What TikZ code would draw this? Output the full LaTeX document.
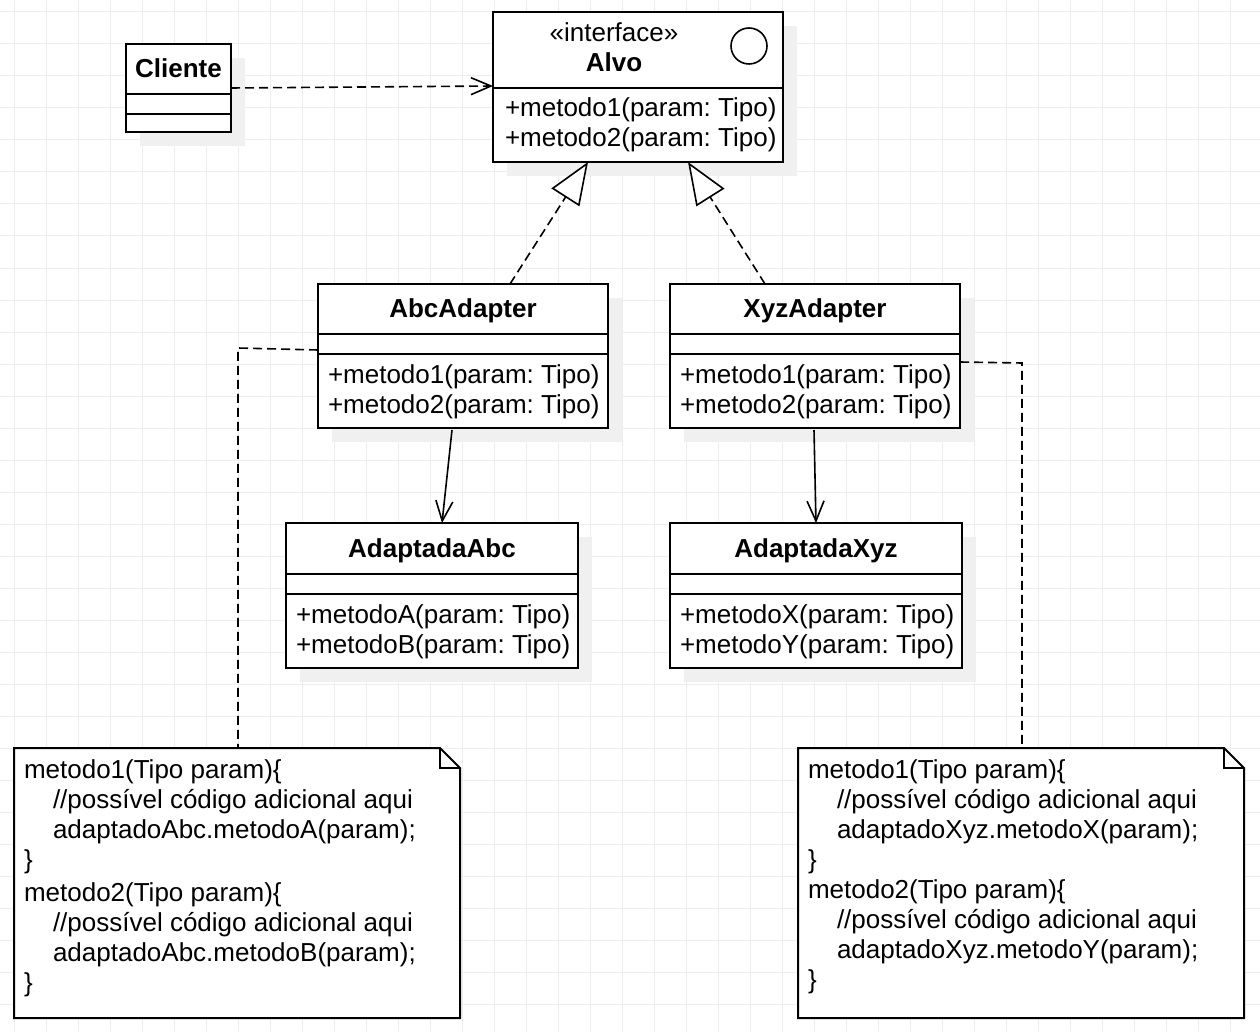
\documentclass[tikz,border=0pt]{standalone}
\usepackage{fontspec}
\setmainfont{Liberation Sans}
\usetikzlibrary{arrows.meta,calc,shadows}
\definecolor{gridc}{gray}{0.93}
\definecolor{shadowc}{gray}{0.94}
\frenchspacing
\begin{document}
\frenchspacing
\begin{tikzpicture}[x=1pt,y=-1pt,
  every node/.style={font=\fontsize{26}{30}\selectfont\frenchspacing, inner sep=0pt, outer sep=0pt},
  umlbox/.style={draw=black, line width=2pt, fill=white, rectangle, anchor=north west,
     drop shadow={shadow xshift=14pt, shadow yshift=-14pt, fill=shadowc, opacity=1}},
  divline/.style={line width=2pt},
  notebox/.style={draw=none, rectangle, anchor=north west, minimum width=446pt, minimum height=270pt},
  noteline/.style={line width=2pt, fill=white, line join=miter},
  txt/.style={anchor=base west},
  ctxt/.style={anchor=base},
  dashconn/.style={line width=1.6pt, dash pattern=on 9pt off 5pt},
  veeconn/.style={line width=1.6pt, -{Straight Barb[length=20pt,width=17pt,line width=1.6pt]}},
  realconn/.style={line width=1.6pt, dash pattern=on 9pt off 5pt, -{Triangle[open,fill=white,length=42pt,width=33pt,line width=1.6pt]}}
]
\useasboundingbox (0,0) rectangle (1260,1032);
\fill[white] (0,0) rectangle (1260,1032);
% grid
\foreach \gx in {14,46,...,1246} \draw[gridc,line width=1pt] (\gx,0) -- (\gx,1032);
\foreach \gy in {12,44,...,1030} \draw[gridc,line width=1pt] (0,\gy) -- (1260,\gy);

% Cliente
\node[umlbox, minimum width=105pt, minimum height=88pt] (cliente) at (126,44) {};
\draw[divline] ($(cliente.north west)+(0,50)$) -- ($(cliente.north east)+(0,50)$);
\draw[divline] ($(cliente.north west)+(0,70)$) -- ($(cliente.north east)+(0,70)$);
\node[ctxt] (clienteT) at ($(cliente.north)+(0,34)$) {\bfseries Cliente};

% Alvo
\node[umlbox, minimum width=290pt, minimum height=150pt] (alvo) at (493,12) {};
\draw[divline] ($(alvo.north west)+(0,76)$) -- ($(alvo.north east)+(0,76)$);
\node[ctxt] (alvoS) at ($(alvo.north west)+(121,30)$) {«interface»};
\node[ctxt] (alvoT) at ($(alvo.north west)+(121,60)$) {\bfseries Alvo};
\node[circle, draw, line width=1.6pt, minimum size=36pt] (alvoIcon) at ($(alvo.north west)+(256,34)$) {};
\node[txt] (alvoM1) at ($(alvo.north west)+(12,105)$) {+metodo1(param: Tipo)};
\node[txt] (alvoM2) at ($(alvo.north west)+(12,135)$) {+metodo2(param: Tipo)};

% AbcAdapter
\node[umlbox, minimum width=290pt, minimum height=144pt] (abc) at (318,284) {};
\draw[divline] ($(abc.north west)+(0,50)$) -- ($(abc.north east)+(0,50)$);
\draw[divline] ($(abc.north west)+(0,70)$) -- ($(abc.north east)+(0,70)$);
\node[ctxt] (abcT) at ($(abc.north)+(0,33)$) {\bfseries AbcAdapter};
\node[txt] (abcM1) at ($(abc.north west)+(10,99)$) {+metodo1(param: Tipo)};
\node[txt] (abcM2) at ($(abc.north west)+(10,129)$) {+metodo2(param: Tipo)};

% XyzAdapter
\node[umlbox, minimum width=290pt, minimum height=144pt] (xyz) at (670,284) {};
\draw[divline] ($(xyz.north west)+(0,50)$) -- ($(xyz.north east)+(0,50)$);
\draw[divline] ($(xyz.north west)+(0,70)$) -- ($(xyz.north east)+(0,70)$);
\node[ctxt] (xyzT) at ($(xyz.north)+(0,33)$) {\bfseries XyzAdapter};
\node[txt] (xyzM1) at ($(xyz.north west)+(10,99)$) {+metodo1(param: Tipo)};
\node[txt] (xyzM2) at ($(xyz.north west)+(10,129)$) {+metodo2(param: Tipo)};

% AdaptadaAbc
\node[umlbox, minimum width=292pt, minimum height=145pt] (adabc) at (286,523) {};
\draw[divline] ($(adabc.north west)+(0,51)$) -- ($(adabc.north east)+(0,51)$);
\draw[divline] ($(adabc.north west)+(0,71)$) -- ($(adabc.north east)+(0,71)$);
\node[ctxt] (adabcT) at ($(adabc.north)+(0,34)$) {\bfseries AdaptadaAbc};
\node[txt] (adabcM1) at ($(adabc.north west)+(10,100)$) {+metodoA(param: Tipo)};
\node[txt] (adabcM2) at ($(adabc.north west)+(10,130)$) {+metodoB(param: Tipo)};

% AdaptadaXyz
\node[umlbox, minimum width=292pt, minimum height=145pt] (adxyz) at (670,523) {};
\draw[divline] ($(adxyz.north west)+(0,51)$) -- ($(adxyz.north east)+(0,51)$);
\draw[divline] ($(adxyz.north west)+(0,71)$) -- ($(adxyz.north east)+(0,71)$);
\node[ctxt] (adxyzT) at ($(adxyz.north)+(0,34)$) {\bfseries AdaptadaXyz};
\node[txt] (adxyzM1) at ($(adxyz.north west)+(10,100)$) {+metodoX(param: Tipo)};
\node[txt] (adxyzM2) at ($(adxyz.north west)+(10,130)$) {+metodoY(param: Tipo)};

% Notes
\node[notebox] (note1) at (14,748) {};
\draw[noteline] (note1.north west) -- ($(note1.north east)+(-20,0)$) -- ($(note1.north east)+(0,20)$) -- (note1.south east) -- (note1.south west) -- cycle;
\draw[noteline, fill=none] ($(note1.north east)+(-20,0)$) -- ($(note1.north east)+(-20,20)$) -- ($(note1.north east)+(0,20)$);
\node[txt] (n1a) at ($(note1.north west)+(10,30)$) {metodo1(Tipo param)\{};
\node[txt] (n1b) at ($(note1.north west)+(39,60)$) {//possível código adicional aqui};
\node[txt] (n1c) at ($(note1.north west)+(39,90)$) {adaptadoAbc.metodoA(param);};
\node[txt] (n1d) at ($(note1.north west)+(10,120)$) {\}};
\node[txt] (n1e) at ($(note1.north west)+(10,153)$) {metodo2(Tipo param)\{};
\node[txt] (n1f) at ($(note1.north west)+(39,183)$) {//possível código adicional aqui};
\node[txt] (n1g) at ($(note1.north west)+(39,213)$) {adaptadoAbc.metodoB(param);};
\node[txt] (n1h) at ($(note1.north west)+(10,243)$) {\}};

\node[notebox] (note2) at (798,748) {};
\draw[noteline] (note2.north west) -- ($(note2.north east)+(-20,0)$) -- ($(note2.north east)+(0,20)$) -- (note2.south east) -- (note2.south west) -- cycle;
\draw[noteline, fill=none] ($(note2.north east)+(-20,0)$) -- ($(note2.north east)+(-20,20)$) -- ($(note2.north east)+(0,20)$);
\node[txt] (n2a) at ($(note2.north west)+(10,30)$) {metodo1(Tipo param)\{};
\node[txt] (n2b) at ($(note2.north west)+(39,60)$) {//possível código adicional aqui};
\node[txt] (n2c) at ($(note2.north west)+(39,90)$) {adaptadoXyz.metodoX(param);};
\node[txt] (n2d) at ($(note2.north west)+(10,120)$) {\}};
\node[txt] (n2e) at ($(note2.north west)+(10,150)$) {metodo2(Tipo param)\{};
\node[txt] (n2f) at ($(note2.north west)+(39,180)$) {//possível código adicional aqui};
\node[txt] (n2g) at ($(note2.north west)+(39,210)$) {adaptadoXyz.metodoY(param);};
\node[txt] (n2h) at ($(note2.north west)+(10,240)$) {\}};

% Connectors
\draw[dashconn, -{Straight Barb[length=20pt,width=17pt,line width=1.6pt]}] ($(cliente.north east)+(0,44)$) -- ($(alvo.north west)+(0,74)$);
\draw[realconn] ($(abc.north west)+(192,0)$) -- ($(alvo.south west)+(95,0)$);
\draw[realconn] ($(xyz.north west)+(95,0)$) -- ($(alvo.south west)+(195,0)$);
\draw[veeconn] ($(abc.south west)+(134,2)$) -- ($(adabc.north west)+(156,0)$);
\draw[veeconn] ($(xyz.south west)+(144,2)$) -- ($(adxyz.north west)+(146,0)$);
\coordinate (c1) at (238,348);
\coordinate (c2) at (1022,363);
\draw[dashconn] ($(abc.north west)+(0,66)$) -- (c1) -- (c1 |- note1.north);
\draw[dashconn] ($(xyz.north east)+(0,78)$) -- (c2) -- (c2 |- note2.north);
\end{tikzpicture}
\end{document}
